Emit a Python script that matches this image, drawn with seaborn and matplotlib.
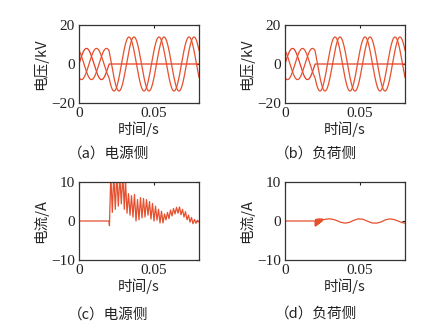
import numpy as np
import pandas as pd
import matplotlib
matplotlib.use("Agg")
import matplotlib.pyplot as plt
import seaborn as sns

# ---------------- data ----------------
# three-phase voltage (kV): 50 Hz, single-phase fault at t = 0.02 s
freq_hz = 50.0
fault_time = 0.02
phase_names = ["A", "B", "C"]
amp_pre = [8.0, 8.0, 8.0]            # kV before the fault
amp_post = [0.0, 13.86, 13.86]       # kV after the fault (faulted phase -> 0)
angle_pre_deg = [0.0, -120.0, 120.0]
angle_post_deg = [0.0, -150.0, 150.0]

src_t = [0.0, 0.0200, 0.0203, 0.0212, 0.0222, 0.0232, 0.0242, 0.0252, 0.0262,
         0.0272, 0.0282, 0.0292, 0.0302, 0.0310, 0.0320, 0.0330, 0.0340, 0.0350,
         0.0360, 0.0370, 0.0380, 0.0390, 0.0400, 0.0410, 0.0420, 0.0430, 0.0440,
         0.0450, 0.0460, 0.0470, 0.0480, 0.0490, 0.0500, 0.0510, 0.0520, 0.0530,
         0.0540, 0.0550, 0.0560, 0.0570, 0.0580, 0.0590, 0.0600, 0.0610, 0.0620,
         0.0630, 0.0640, 0.0650, 0.0660, 0.0670, 0.0680, 0.0690, 0.0700, 0.0710,
         0.0720, 0.0730, 0.0740, 0.0750, 0.0760, 0.0770, 0.0780, 0.0790, 0.0800]
src_i = [0.0, 0.0, -1.2, 12.0, 2.2, 12.0, 3.0, 12.0, 3.8,
         11.5, 4.4, 12.0, 3.0, 10.5, 2.0, 7.0, 1.5, 6.5,
         1.0, 6.8, 0.0, 5.5, 0.3, 6.0, 0.8, 5.8, 1.0,
         5.5, 1.5, 5.0, 0.5, 4.5, 0.0, 3.8, 0.2, 3.0,
         -0.5, 2.5, -0.5, 1.8, 0.3, 2.2, 0.6, 2.8, 1.3,
         3.2, 1.8, 3.5, 2.0, 3.6, 1.6, 3.0, 1.0, 2.4,
         0.3, 1.5, -0.3, 0.9, -0.7, 0.4, -0.6, 0.2, -0.3]

load_t = [0.0, 0.0200, 0.02025, 0.0205, 0.02075, 0.0210, 0.02125, 0.0215,
          0.02175, 0.0220, 0.02225, 0.0225, 0.02275, 0.0230, 0.02325, 0.0235,
          0.02375, 0.0240, 0.02425, 0.0245, 0.02475, 0.0250, 0.0255,
          0.0270, 0.0290, 0.0310, 0.0340, 0.0370, 0.0400, 0.0430, 0.0460,
          0.0490, 0.0520, 0.0550, 0.0580, 0.0610, 0.0640, 0.0670, 0.0700,
          0.0730, 0.0760, 0.0780, 0.0800]
load_i = [0.0, 0.0, -1.3, 0.4, -1.2, 0.45, -1.05, 0.45, -0.9, 0.5, -0.75,
          0.5, -0.6, 0.5, -0.45, 0.5, -0.3, 0.5, -0.15, 0.5, 0.0, 0.5, 0.3,
          0.45, 0.55, 0.5, 0.2, -0.3, -0.55, -0.35, 0.2, 0.55, 0.45, -0.05,
          -0.5, -0.55, -0.25, 0.3, 0.55, 0.35, -0.1, -0.4, -0.55]

xticks = [0, 0.05]
xtick_labels = ["0", "0.05"]
v_ticks = [-20, 0, 20]
i_ticks = [-10, 0, 10]
captions = ["（a）电源侧", "（b）负荷侧", "（c）电源侧", "（d）负荷侧"]

# ---------------- build tables ----------------
t = np.linspace(0.0, 0.08, 2001)
w = 2 * np.pi * freq_hz
rows = []
for name, a0, a1, p0, p1 in zip(phase_names, amp_pre, amp_post,
                                angle_pre_deg, angle_post_deg):
    v = np.where(t < fault_time,
                 a0 * np.sin(w * t + np.deg2rad(p0)),
                 a1 * np.sin(w * t + np.deg2rad(p1)))
    rows.append(pd.DataFrame({"t": t, "v": v, "phase": name}))
volt_df = pd.concat(rows, ignore_index=True)
src_df = pd.DataFrame({"t": src_t, "i": src_i})
load_df = pd.DataFrame({"t": load_t, "i": load_i})

# ---------------- style ----------------
sns.set_theme(style="white")
plt.rcParams["font.family"] = ["Liberation Serif", "Noto Sans CJK SC"]
plt.rcParams["axes.unicode_minus"] = True
line_col = "#E5502E"
pal = {"A": "#E63A22", "B": line_col, "C": line_col}

fig = plt.figure(figsize=(4.44, 3.35), dpi=100)
W, H = 444.0, 335.0

def make_ax(x0, x1, y0, y1):
    return fig.add_axes([x0 / W, 1 - y1 / H, (x1 - x0) / W, (y1 - y0) / H])

ax_a = make_ax(79, 199, 25, 103)
ax_b = make_ax(285, 405, 25, 103)
ax_c = make_ax(79, 199, 182, 260)
ax_d = make_ax(285, 405, 182, 260)

for ax in (ax_a, ax_b):
    sns.lineplot(data=volt_df, x="t", y="v", hue="phase", palette=pal,
                 estimator=None, sort=False, linewidth=0.9, legend=False, ax=ax)
    ax.set_ylim(-20, 20)
    ax.set_yticks(v_ticks)
    ax.set_ylabel("电压/kV", fontsize=10.5, family=["Noto Sans CJK SC"], labelpad=2)

sns.lineplot(data=src_df, x="t", y="i", color=line_col, estimator=None,
             sort=False, linewidth=0.9, ax=ax_c)
sns.lineplot(data=load_df, x="t", y="i", color=line_col, estimator=None,
             sort=False, linewidth=0.9, ax=ax_d)
for ax in (ax_c, ax_d):
    ax.set_ylim(-10, 10)
    ax.set_yticks(i_ticks)
    ax.set_ylabel("电流/A", fontsize=10.5, family=["Noto Sans CJK SC"], labelpad=2)

for ax in (ax_a, ax_b, ax_c, ax_d):
    ax.set_xlim(0, 0.08)
    ax.set_xticks(xticks)
    ax.set_xticklabels(xtick_labels)
    ax.set_xlabel("时间/s", fontsize=10.5, family=["Noto Sans CJK SC"], labelpad=1)
    ax.tick_params(direction="in", length=2.5, width=0.8, top=True, right=True,
                   labelsize=11, colors="#222222", pad=3)
    for s in ax.spines.values():
        s.set_color("#333333")
        s.set_linewidth(0.9)
        s.set_visible(True)

cap_pos = [(68, 154), (275, 154), (68, 315), (275, 314)]
for (cx, cy), cap in zip(cap_pos, captions):
    fig.text(cx / W, 1 - cy / H, cap, fontsize=10.5, ha="left", va="center",
             family=["Noto Sans CJK SC"], color="#222222")

fig.savefig("out.png", dpi=100)
